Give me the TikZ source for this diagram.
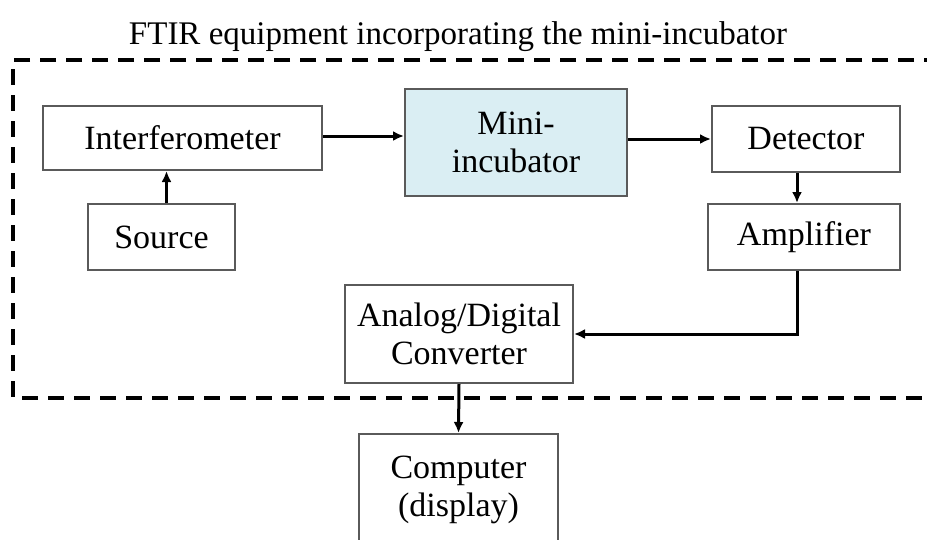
\documentclass[tikz,border=0pt]{standalone}
\usepackage{fontspec}
\setmainfont{Liberation Serif}
\usetikzlibrary{arrows.meta}
\usetikzlibrary{positioning}

\begin{document}
\begin{tikzpicture}[x=1pt, y=-1pt]
    \definecolor{box_gray}{HTML}{5A5A5A}
    \definecolor{light_blue}{HTML}{DAEEF3}
    \tikzstyle{block}=[draw = box_gray, line width = 2pt, align = center,
                       inner sep = 0pt, font = \fontsize{34}{38}\selectfont]
    \tikzstyle{link}=[line width = 3pt, -{Latex[length = 11pt, width = 10pt]}]
    \useasboundingbox (0,0) rectangle (927,539);
    \clip (0,0) rectangle (927,539);
    \node[font = \fontsize{33}{38}\selectfont] (title) at (458,37) {FTIR equipment incorporating the mini-incubator};
    \draw[line width = 4pt, dash pattern = on 16pt off 10pt] (940,60) -- (13,60) -- (13,398) -- (940,398);
    \node[block, minimum width = 279pt, minimum height = 64pt] (interferometer) at (182.5,138) {Interferometer};
    \node[block, minimum width = 147pt, minimum height = 66pt] (source) at (161.5,237) {Source};
    \node[block, fill = light_blue, minimum width = 222pt, minimum height = 107pt] (incubator) at (516,142.5) {Mini-\\incubator};
    \node[block, minimum width = 188pt, minimum height = 66pt] (detector) at (806,139) {Detector};
    \node[block, minimum width = 192pt, minimum height = 66pt] (amplifier) at (804,237) {Amplifier};
    \node[block, minimum width = 228pt, minimum height = 98pt] (converter) at (459,334) {Analog/Digital\\Converter};
    \node[block, minimum width = 199pt, minimum height = 112pt] (computer) at (458.5,490) {Computer\\(display)};
    \draw[link] ([xshift = 5pt]source.north) -- ([xshift = 5pt]source.north |- interferometer.south);
    \draw[link] ([yshift = 2pt]interferometer.east) -- ([yshift = 2pt]interferometer.east -| incubator.west);
    \draw[link] (detector.west -| incubator.east) -- (detector.west);
    \draw[link] ([xshift = -9pt]detector.south) -- ([xshift = -9pt]detector.south |- amplifier.north);
    \draw[link] ([xshift = -7pt]amplifier.south) |- (converter.east);
    \draw[link] (converter.south) -- (computer.north);
\end{tikzpicture}
\end{document}
